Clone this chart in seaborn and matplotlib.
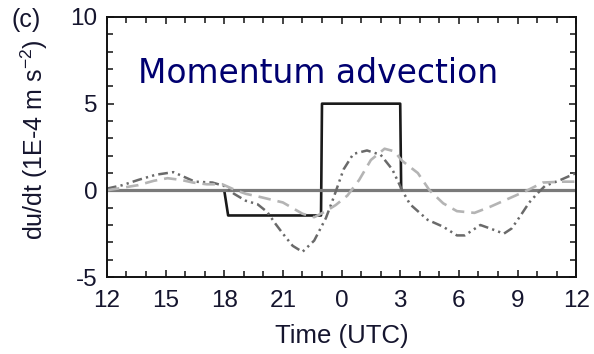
import numpy as np
import pandas as pd
import matplotlib
matplotlib.use("Agg")
import matplotlib.pyplot as plt
import seaborn as sns
from matplotlib.ticker import MultipleLocator, FixedLocator

# Time axis runs from 12 UTC to 12 UTC next day (hours 12..36)
tick_hours = [12, 15, 18, 21, 24, 27, 30, 33, 36]
tick_labels = ["12", "15", "18", "21", "0", "3", "6", "9", "12"]

# Prescribed (step) momentum advection forcing
step_t = [12.0, 18.0, 18.2, 22.95, 23.0, 27.0, 27.05, 36.0]
step_v = [0.0, 0.0, -1.45, -1.45, 5.0, 5.0, 0.0, 0.0]

# Zero-forcing periods
zero_t = [12.0, 18.0, 18.01, 27.04, 27.05, 36.0]
zero_v = [0.0, 0.0, np.nan, np.nan, 0.0, 0.0]

# Diagnosed advection, first estimate (dash-dot-dot)
adv1_t = [12.0, 12.8, 13.6, 14.5, 15.4, 16.0, 16.5, 17.4, 18.0, 18.5, 19.1, 19.7,
          20.2, 20.6, 21.0, 21.5, 22.0, 22.6, 23.2, 23.6, 24.1, 24.6, 25.3, 26.0,
          26.6, 27.1, 27.5, 28.4, 29.2, 29.9, 30.3, 30.7, 31.1, 31.6, 32.3, 32.7,
          33.1, 33.6, 34.0, 34.4, 35.2, 36.0]
adv1_v = [0.1, 0.3, 0.6, 0.9, 1.05, 0.75, 0.5, 0.45, 0.25, -0.2, -0.6, -0.8,
          -1.25, -1.9, -2.5, -3.2, -3.55, -2.9, -1.6, -0.4, 1.2, 2.1, 2.3, 2.05,
          1.2, 0.0, -0.8, -1.7, -2.1, -2.6, -2.6, -2.3, -2.0, -2.2, -2.5, -2.2,
          -1.55, -0.7, -0.2, 0.25, 0.6, 1.0]

# Diagnosed advection, second estimate (dashed)
adv2_t = [12.0, 12.8, 13.6, 14.4, 15.1, 15.8, 16.4, 17.1, 17.9, 18.5, 19.1, 19.9,
          21.0, 22.0, 22.6, 23.2, 23.7, 24.3, 24.9, 25.5, 26.2, 26.7, 27.1, 27.9,
          28.5, 29.2, 29.9, 30.8, 31.6, 32.6, 33.5, 34.3, 35.3, 36.0]
adv2_v = [0.0, 0.15, 0.3, 0.55, 0.7, 0.6, 0.45, 0.35, 0.35, 0.05, -0.2, -0.4,
          -0.7, -1.35, -1.55, -1.2, -0.85, -0.3, 0.6, 1.75, 2.4, 2.25, 1.7, 1.0,
          0.0, -0.75, -1.2, -1.3, -0.95, -0.45, 0.0, 0.45, 0.5, 0.5]

sns.set_style("ticks")
plt.rcParams["font.family"] = ["Liberation Sans", "DejaVu Sans"]
plt.rcParams["mathtext.default"] = "regular"
plt.rcParams["axes.unicode_minus"] = False
plt.rcParams["lines.scale_dashes"] = False

fig = plt.figure(figsize=(5.94, 3.54), dpi=100)
ax = fig.add_axes([0.180, 0.2175, 0.790, 0.7345])

kw = dict(ax=ax, sort=False, estimator=None, legend=False)
sns.lineplot(x=step_t, y=step_v, color="#1a1a1a", linewidth=1.9, **kw)
sns.lineplot(x=zero_t, y=zero_v, color="#7a7a7a", linewidth=2.3, **kw)
l1 = sns.lineplot(x=adv1_t, y=adv1_v, color="#6a6a6a", linewidth=1.8, **kw).lines[-1]
l1.set_dashes((7, 3, 1.6, 3, 1.6, 3))
l2 = sns.lineplot(x=adv2_t, y=adv2_v, color="#b4b4b4", linewidth=1.9, **kw).lines[-1]
l2.set_dashes((9, 5))

ax.set_xlim(12, 36)
ax.set_ylim(-5, 10)
ax.xaxis.set_major_locator(FixedLocator(tick_hours))
ax.set_xticklabels(tick_labels)
ax.xaxis.set_minor_locator(MultipleLocator(1))
ax.yaxis.set_major_locator(FixedLocator([-5, 0, 5, 10]))
ax.yaxis.set_minor_locator(MultipleLocator(1))

txt_color = "#15152e"
ax.tick_params(which="both", direction="in", top=True, right=True,
               color="#111111", width=1.1)
ax.tick_params(axis="x", which="major", pad=9)
ax.tick_params(axis="y", which="major", pad=7)
ax.tick_params(which="major", length=5, labelsize=17.5, labelcolor=txt_color)
ax.tick_params(which="minor", length=4)
for s in ax.spines.values():
    s.set_linewidth(1.4)
    s.set_color("#111111")

ax.set_xlabel("Time (UTC)", fontsize=18.5, color=txt_color, labelpad=9)
ax.set_ylabel("du/dt (1E-4 m s$^{-2}$)", fontsize=18, color=txt_color)
ax.yaxis.set_label_coords(-0.122, 0.527)
fig.text(0.020, 0.925, "(c)", fontsize=18, color=txt_color)

title = ax.text(0.066, 0.746, "Momentum advection", transform=ax.transAxes,
                fontsize=24, color="#000070", family=["DejaVu Sans"],
                ha="left", va="baseline")
# fit the label to its width across the upper panel
fig.canvas.draw()
w = title.get_window_extent().width
title.set_fontsize(24 * 360 / w)

fig.savefig("out.png", dpi=100)
